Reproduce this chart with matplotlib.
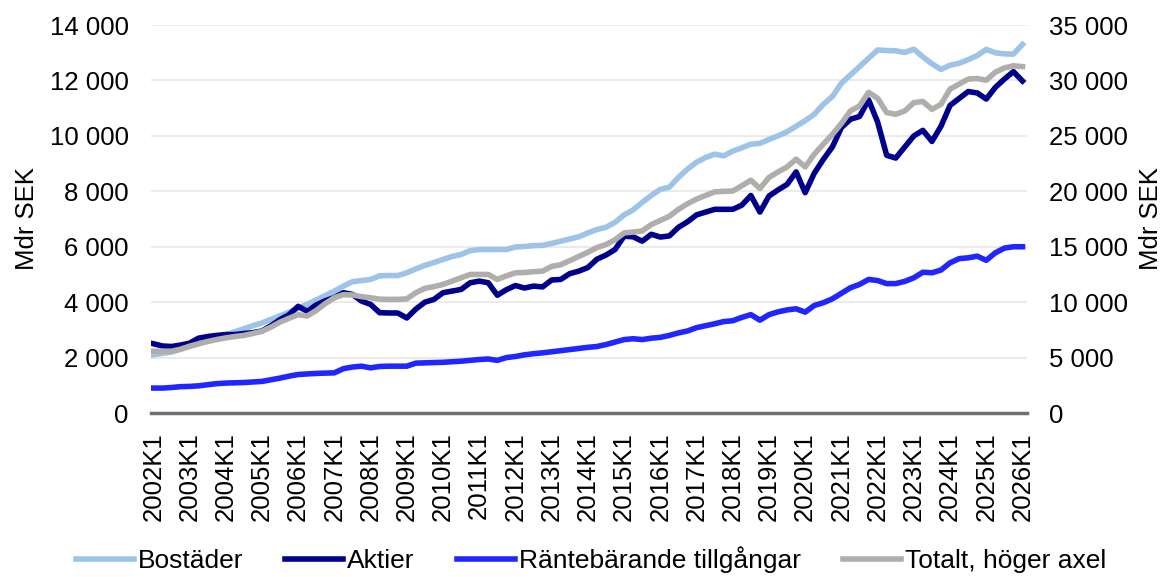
import matplotlib
matplotlib.use('Agg')
import numpy as np
import matplotlib.pyplot as plt
from matplotlib.ticker import FuncFormatter, MultipleLocator

plt.rcParams['font.family'] = ['Liberation Sans', 'DejaVu Sans']
plt.rcParams['font.size'] = 18.5

# quarterly, 2002K1 .. 2026K1 (Mdr SEK)
years = list(range(2002, 2027))
quarters = ['%dK%d' % (y, q) for y in years for q in range(1, 5)][:97]

bostader = [2100, 2150, 2200, 2300, 2400, 2500, 2620, 2730, 2830, 2930, 3040, 3150,
            3250, 3380, 3510, 3640, 3780, 3920, 4080, 4240, 4400, 4580, 4740, 4780,
            4820, 4950, 4960, 4960, 5060, 5200, 5330, 5430, 5540, 5650, 5720, 5860,
            5900, 5900, 5900, 5900, 5990, 6010, 6040, 6050, 6120, 6200, 6280, 6360,
            6500, 6620, 6700, 6880, 7150, 7330, 7600, 7850, 8070, 8150, 8500, 8800,
            9050, 9220, 9340, 9280, 9450, 9570, 9700, 9730, 9870, 10000, 10150, 10350,
            10550, 10780, 11140, 11420, 11900, 12200, 12500, 12800, 13100, 13080, 13070, 13010,
            13130, 12850, 12600, 12400, 12550, 12620, 12750, 12900, 13120, 13000, 12960, 12950,
            13300]

aktier = [2500, 2420, 2400, 2450, 2520, 2700, 2760, 2800, 2830, 2830, 2870, 2900,
          2960, 3150, 3370, 3550, 3850, 3670, 3900, 4050, 4170, 4340, 4280, 4040,
          3920, 3620, 3610, 3610, 3430, 3750, 4000, 4100, 4340, 4400, 4460, 4700,
          4760, 4700, 4250, 4450, 4600, 4510, 4580, 4550, 4800, 4820, 5030, 5120,
          5250, 5550, 5700, 5900, 6380, 6360, 6200, 6450, 6350, 6390, 6700, 6900,
          7150, 7250, 7350, 7350, 7350, 7500, 7850, 7250, 7830, 8050, 8250, 8700,
          7950, 8650, 9150, 9600, 10300, 10600, 10700, 11300, 10500, 9300, 9200, 9600,
          10000, 10200, 9800, 10350, 11100, 11350, 11600, 11550, 11330, 11750, 12050, 12320,
          11980]

rantebarande = [900, 900, 920, 950, 960, 980, 1020, 1060, 1080, 1090, 1100, 1120,
                1140, 1200, 1260, 1330, 1390, 1410, 1430, 1440, 1450, 1600, 1660, 1690,
                1630, 1680, 1690, 1690, 1690, 1800, 1810, 1820, 1830, 1850, 1870, 1900,
                1930, 1950, 1900, 2000, 2040, 2100, 2140, 2170, 2210, 2250, 2290, 2330,
                2370, 2400, 2470, 2560, 2650, 2680, 2650, 2700, 2730, 2800, 2890, 2960,
                3080, 3150, 3220, 3300, 3330, 3450, 3550, 3350, 3550, 3650, 3720, 3760,
                3640, 3880, 3980, 4120, 4320, 4520, 4640, 4820, 4780, 4670, 4670, 4750,
                4880, 5080, 5060, 5160, 5420, 5570, 5600, 5660, 5510, 5780, 5950, 6000,
                6000]

# right axis
totalt = [5575, 5575, 5575, 5750, 6025, 6250, 6450, 6625, 6775, 6900, 7000, 7175,
          7375, 7750, 8200, 8550, 8875, 8750, 9250, 9875, 10400, 10675, 10650, 10500,
          10400, 10275, 10250, 10250, 10300, 10850, 11250, 11400, 11600, 11900, 12200, 12500,
          12500, 12500, 12050, 12375, 12650, 12675, 12750, 12800, 13225, 13375, 13750, 14125,
          14500, 14925, 15200, 15625, 16250, 16325, 16425, 17000, 17375, 17750, 18375, 18875,
          19300, 19625, 19950, 20000, 20025, 20500, 21000, 20250, 21250, 21750, 22200, 22900,
          22200, 23350, 24250, 25125, 26125, 27250, 27700, 28925, 28400, 27100, 26950, 27250,
          28000, 28100, 27400, 27850, 29225, 29675, 30125, 30175, 30025, 30750, 31125, 31325,
          31250]

labels = ['Bostäder', 'Aktier', 'Räntebärande tillgångar', 'Totalt, höger axel']
colors = ['#9dc3e6', '#00008c', '#1f26ff', '#afaeaa']

fmt = FuncFormatter(lambda v, p: '{:,.0f}'.format(v).replace(',', ' '))

fig = plt.figure(figsize=(11.66, 5.77), dpi=100)
ax = fig.add_axes([0.1295, 0.2842, 0.7513, 0.6724])
ax2 = ax.twinx()

x = np.arange(len(quarters))
lw = 4.0
l1, = ax.plot(x, bostader, color=colors[0], lw=lw)
l2, = ax.plot(x, aktier, color=colors[1], lw=lw)
l3, = ax.plot(x, rantebarande, color=colors[2], lw=lw)
l4, = ax2.plot(x, totalt, color=colors[3], lw=lw)

ax.set_xlim(-0.25, 96.5)
ax.set_ylim(0, 14000)
ax2.set_ylim(0, 35000)
ax.yaxis.set_major_locator(MultipleLocator(2000))
ax2.yaxis.set_major_locator(MultipleLocator(5000))
ax.yaxis.set_major_formatter(fmt)
ax2.yaxis.set_major_formatter(fmt)

ax.set_xticks(x[::4])
ax.set_xticklabels(quarters[::4], rotation=90)

ax.grid(which='major', axis='y', color='#ebebeb', lw=1.5)
ax.set_axisbelow(True)
for a in (ax, ax2):
    for s in ['top', 'left', 'right', 'bottom']:
        a.spines[s].set_visible(False)
    a.tick_params(length=0)
ax.spines['bottom'].set_visible(True)
ax.spines['bottom'].set_color('#6f6f6f')
ax.spines['bottom'].set_linewidth(2.5)
ax.tick_params(axis='y', pad=16)
ax2.tick_params(axis='y', pad=16)
ax.tick_params(axis='x', pad=14)

ax.set_ylabel('Mdr SEK', labelpad=8)
ax2.set_ylabel('Mdr SEK', labelpad=8)

fig.legend([l1, l2, l3, l4], labels, loc='center', bbox_to_anchor=(0.507, 0.03),
           ncol=4, frameon=False, handlelength=2.2, handletextpad=0.15,
           columnspacing=1.6, fontsize=19)

plt.savefig('out.png', dpi=100)
